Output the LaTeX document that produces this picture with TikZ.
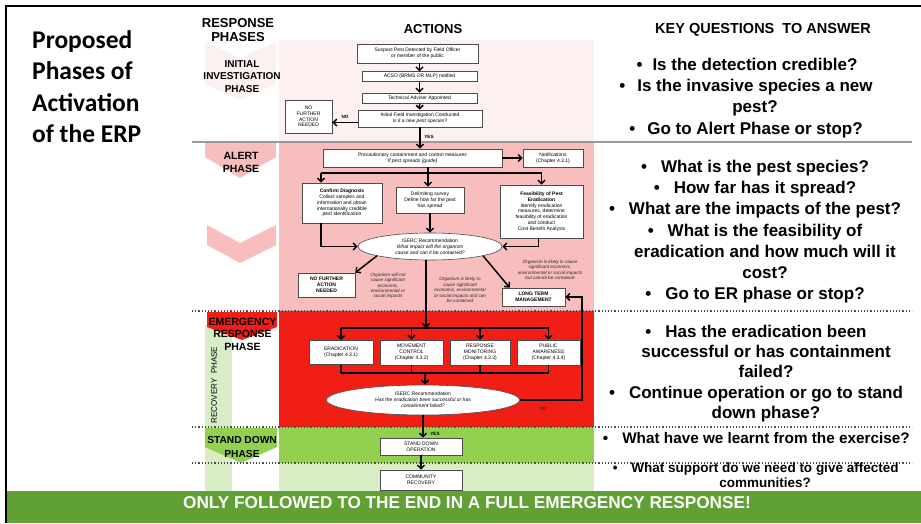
\documentclass[tikz,border=0pt]{standalone}
\usepackage{fontspec}
\setmainfont{Liberation Sans}
\newfontfamily\titlefont{Carlito}
\usetikzlibrary{arrows.meta,shapes.geometric}

\definecolor{palepink}{RGB}{253,240,240}
\definecolor{alertpink}{RGB}{248,190,190}
\definecolor{erred}{RGB}{240,30,20}
\definecolor{sdgreen}{RGB}{146,208,80}
\definecolor{recgreen}{RGB}{216,236,197}
\definecolor{bannergreen}{RGB}{96,160,52}

\begin{document}
\begin{tikzpicture}[x=1pt,y=-1pt,
  box/.style={draw=black!70,line width=0.6pt,fill=white,align=center,inner sep=1pt,font=\fontsize{5}{5.8}\selectfont},
  oval/.style={ellipse,draw=black!70,line width=0.6pt,fill=white,align=center,inner sep=0pt,font=\fontsize{5}{5.8}\selectfont},
  note/.style={align=center,inner sep=0pt,text=black!85,font=\fontsize{4.6}{5.4}\selectfont\itshape},
  tag/.style={inner sep=0pt,font=\fontsize{4.6}{5}\selectfont\bfseries},
  flow/.style={line width=1.5pt,-{Straight Barb[length=3.5pt,width=7pt]}},
  link/.style={line width=1.5pt},
  head/.style={align=center,inner sep=0pt,font=\fontsize{13}{14}\selectfont\bfseries},
  phase/.style={align=center,inner sep=0pt,font=\fontsize{10.5}{12.5}\selectfont\bfseries},
  quest/.style={align=center,inner sep=0pt,anchor=north,font=\fontsize{17}{21.3}\selectfont\bfseries},
  sep/.style={black!70,dotted,line width=1.2pt}]
  \useasboundingbox (0,0) rectangle (921,523);

  \fill[palepink] (279,40) rectangle (594,142);
  \fill[alertpink] (279,142) rectangle (594,311);
  \fill[erred] (279,311) rectangle (594,427);
  \fill[sdgreen] (279,427) rectangle (594,463);
  \fill[recgreen] (279,463) rectangle (594,491);
  \fill[recgreen] (205,325) rectangle (232,491);
  \fill[palepink] (205,42) -- (240,58) -- (276,42) -- (276,84) -- (240,100) -- (205,84) -- cycle;
  \fill[alertpink] (205,143) -- (276,143) -- (276,157) -- (240,178) -- (205,157) -- cycle;
  \fill[alertpink] (207,225) -- (240,243) -- (276,225) -- (276,245) -- (240,263) -- (207,245) -- cycle;
  \fill[erred] (207,312) -- (277,312) -- (277,327) -- (242,340) -- (207,327) -- cycle;
  \fill[sdgreen] (205,428) -- (277,428) -- (277,447) -- (241,463) -- (205,447) -- cycle;
  \fill[bannergreen] (6,491) rectangle (921,523);
  \draw[line width=2.5pt] (6,523) -- (6,6) -- (921,6);
  \draw[black!40,line width=1.5pt] (192,142) -- (912,142);
  \foreach \y in {311,427,463} \draw[sep] (192,\y) -- (912,\y);

  \node[anchor=north west,align=left,inner sep=0pt,font=\titlefont\fontsize{25.5}{31.5}\selectfont\bfseries] (title) at (32,30)
    {Proposed\\Phases of\\Activation\\of the ERP};
  \node[head,anchor=north] (phasehead) at (238,18) {RESPONSE\\PHASES};
  \node[head,anchor=base] (acthead) at (433,33) {ACTIONS};
  \node[head,anchor=base,font=\fontsize{14.5}{16}\selectfont\bfseries] (keyhead) at (763,33) {KEY QUESTIONS \ TO ANSWER};

  \node[phase,anchor=north,font=\fontsize{10}{12.5}\selectfont\bfseries] (initph) at (242,60) {INITIAL\\INVESTIGATION\\PHASE};
  \node[phase,anchor=north] (alertph) at (241,152.5) {ALERT\\PHASE};
  \node[phase,anchor=north] (emerph) at (242.5,317.5) {EMERGENCY\\RESPONSE\\PHASE};
  \node[phase,anchor=north,font=\fontsize{10.2}{14}\selectfont\bfseries] (standph) at (242,435.7) {STAND DOWN\\PHASE};
  \node[inner sep=0pt,rotate=90,font=\fontsize{8}{8}\selectfont] (recph) at (214,385) {RECOVERY \ PHASE};

  \node[box,minimum width=121,minimum height=19] (suspect) at (417.5,53.5) {Suspect Pest Detected by Field Officer\\or member of the public};
  \node[box,minimum width=115,minimum height=9.5] (acso) at (419.5,76.5) {ACSO (BRMS OR MLP) notified};
  \node[box,minimum width=115,minimum height=10] (tech) at (419.5,98) {Technical Adviser Appointed};
  \node[box,minimum width=124,minimum height=17] (initinv) at (420,118.5) {Initial Field Investigation Conducted\\\textit{Is it a new pest species?}};
  \node[box,minimum width=47,minimum height=33] (nfa) at (308.5,116.5) {NO\\FURTHER\\ACTION\\NEEDED};
  \node[box,minimum width=179,minimum height=18] (precaution) at (412.5,158) {Precautionary containment and control measures\\\textit{If pest spreads (guide)}};
  \node[box,minimum width=60,minimum height=18] (notif) at (553,158) {Notifications\\(Chapter 4.3.1)};
  \node[box,minimum width=80,minimum height=40] (confirm) at (342,203) {\textbf{Confirm Diagnosis}\\Collect samples and\\information and obtain\\internationally credible\\pest identification};
  \node[box,minimum width=68,minimum height=26] (delimit) at (430,200) {Delimiting survey\\Define how far the pest\\has spread};
  \node[box,minimum width=83,minimum height=53] (feasible) at (541.5,211.5) {\textbf{Feasibility of Pest}\\\textbf{Eradication}\\Identify eradication\\measures, determine\\feasibility of eradication\\and conduct\\Cost Benefit Analysis};
  \node[oval,minimum width=144,minimum height=27] (isercA) at (430,246.5) {ISERC Recommendation\\\textit{What impact will the organism}\\\textit{cause and can it be contained?}};
  \node[box,minimum width=57,minimum height=24,font=\fontsize{5}{5.8}\selectfont\bfseries] (nfatwo) at (326.5,285) {NO FURTHER\\ACTION\\NEEDED};
  \node[note] (orgnot) at (388,286) {Organism will not\\cause significant\\economic,\\environmental or\\social impacts};
  \node[note] (orgcan) at (460,290) {Organism is likely to\\cause significant\\economic, environmental\\or social impacts and can\\be contained};
  \node[note] (orgcannot) at (550,270) {Organism is likely to cause\\significant economic,\\environmental or social impacts\\but cannot be contained};
  \node[box,minimum width=63,minimum height=18,font=\fontsize{5}{5.8}\selectfont\bfseries] (ltm) at (533.5,297) {LONG TERM\\MANAGEMENT};
  \node[box,minimum width=64,minimum height=24] (erad) at (341,352.5) {ERADICATION\\(Chapter 4.3.1)};
  \node[box,minimum width=63,minimum height=25] (move) at (411.5,352.5) {MOVEMENT\\CONTROL\\(Chapter 4.3.2)};
  \node[box,minimum width=60,minimum height=25] (monitor) at (480,352.5) {RESPONSE\\MONITORING\\(Chapter 4.3.3)};
  \node[box,minimum width=63,minimum height=25] (aware) at (548.5,352.5) {PUBLIC\\AWARENESS\\(Chapter 4.3.4)};
  \node[oval,minimum width=193,minimum height=30] (isercB) at (423,400) {ISERC Recommendation\\\textit{Has the eradication been successful or has}\\\textit{containment failed?}};
  \node[box,minimum width=82,minimum height=17] (standdown) at (421,446.5) {STAND DOWN\\OPERATION};
  \node[box,minimum width=82,minimum height=20] (community) at (421,480) {COMMUNITY\\RECOVERY};

  \node[tag] (noA) at (345,117) {NO};
  \node[tag] (yesA) at (429,137) {YES};
  \node[tag,text=black!80] (noB) at (543,409) {NO};
  \node[tag] (yesB) at (435,434) {YES};

  \coordinate (forkA) at (428,173);
  \coordinate (forkB) at (426,328);
  \coordinate (joinB) at (425,373);
  \coordinate (loop) at (582,297);

  \draw[flow] (suspect.south -| acso) -- (acso.north);
  \draw[flow] (acso) -- (tech);
  \draw[flow] (tech) -- (initinv);
  \draw[flow] ([yshift=-4pt]initinv.west) -- ([yshift=-4pt]initinv.west -| nfa.east);
  \draw[flow] (initinv.south) -- (initinv.south |- precaution.north);
  \draw[flow] (precaution.east) -- (notif.west);
  \draw[link] (precaution.south -| forkA) -- (forkA);
  \draw[link] ([xshift=-21pt]confirm.north |- forkA) -- (forkA -| feasible);
  \draw[flow] ([xshift=-21pt]confirm.north |- forkA) -- ([xshift=-21pt]confirm.north);
  \draw[flow] (forkA) -- (forkA |- delimit.north);
  \draw[flow] (forkA -| feasible) -- (feasible.north);
  \draw[flow] ([xshift=-21pt]confirm.south) |- (isercA.west);
  \draw[flow] (delimit.south) -- (isercA.north);
  \draw[flow] ([xshift=-3pt]feasible.south) |- (isercA.east);
  \draw[flow] (isercA.190) -- (nfatwo.north east);
  \draw[flow] (isercA.-10) -- ([xshift=8pt]ltm.north west);
  \draw[flow] (isercA.south -| forkB) -- (forkB);
  \draw[link] (forkB -| erad) -- (forkB -| aware);
  \foreach \b in {erad,move,monitor,aware} \draw[flow] (forkB -| \b) -- (\b.north);
  \draw[link] (erad.south |- joinB) -- (aware.south |- joinB);
  \foreach \b in {erad,move,monitor,aware} \draw[link] (\b.south) -- (\b.south |- joinB);
  \draw[flow] (joinB) -- (joinB |- isercB.north);
  \draw[flow] (isercB.east) -| (loop) -- (ltm.east);
  \draw[flow] (isercB.south) -- (isercB.south |- standdown.north);
  \draw[flow] (standdown) -- (community);

  \node[quest] (qinit) at (755,57.6) {\llap{\textbullet\hspace{10pt}}Is the detection credible?\\\llap{\textbullet\hspace{12pt}}Is the invasive species a new\\pest?\\\llap{\textbullet\hspace{12pt}}Go to Alert Phase or stop?};
  \node[quest] (qalert) at (765,159.6) {\llap{\textbullet\hspace{14pt}}What is the pest species?\\\llap{\textbullet\hspace{14pt}}How far has it spread?\\\llap{\textbullet\hspace{14pt}}What are the impacts of the pest?\\\llap{\textbullet\hspace{14pt}}What is the feasibility of\\eradication and how much will it\\cost?\\\llap{\textbullet\hspace{14pt}}Go to ER phase or stop?};
  \node[quest,font=\fontsize{17}{20.3}\selectfont\bfseries] (qemer) at (766,324.6) {\llap{\textbullet\hspace{14pt}}Has the eradication been\\successful or has containment\\failed?\\\llap{\textbullet\hspace{14pt}}Continue operation or go to stand\\down phase?};
  \node[quest,anchor=base,font=\fontsize{15.3}{15.3}\selectfont\bfseries] (qstand) at (766,443) {\llap{\textbullet\hspace{14pt}}What have we learnt from the exercise?};
  \node[quest,font=\fontsize{13.5}{15}\selectfont\bfseries] (qrecov) at (765,462.5) {\llap{\textbullet\hspace{14pt}}What support do we need to give affected\\communities?};

  \node[anchor=base,inner sep=0pt,text=white,font=\fontsize{17.2}{17.2}\selectfont\bfseries] (banner) at (467,508) {ONLY FOLLOWED TO THE END IN A FULL EMERGENCY RESPONSE!};
\end{tikzpicture}
\end{document}
